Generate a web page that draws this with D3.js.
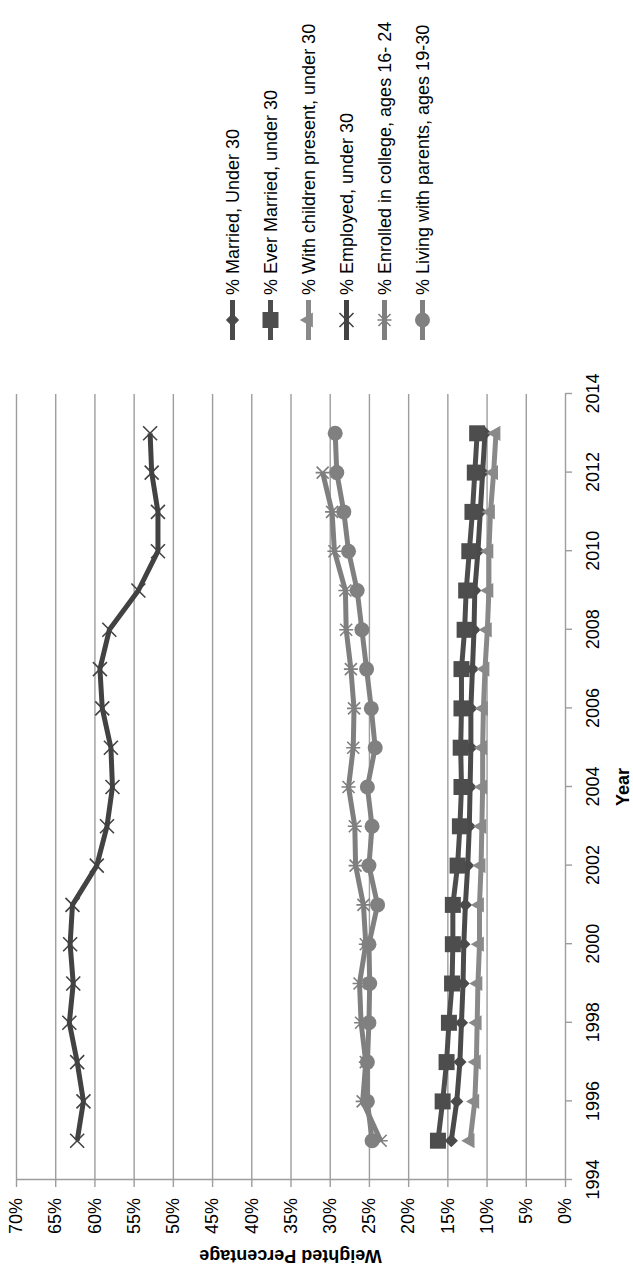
<!DOCTYPE html>
<meta charset="utf-8">
<script src="https://d3js.org/d3.v7.min.js"></script>
<style>
  body { margin: 0; background: #fff; }
  text { font-family: "Liberation Sans", Arial, sans-serif; fill: #000; }
</style>
<div id="chart"></div>
<script>

// chart values
var years = [1995, 1996, 1997, 1998, 1999, 2000, 2001, 2002, 2003, 2004,
             2005, 2006, 2007, 2008, 2009, 2010, 2011, 2012, 2013];
var married      = [14.5, 13.8, 13.4, 13.2, 13.0, 12.9, 12.7, 12.4, 12.2, 12.1,
                    12.0, 12.0, 11.8, 11.6, 11.5, 11.1, 10.8, 10.5, 10.2];
var everMarried  = [16.2, 15.6, 15.1, 14.8, 14.4, 14.3, 14.3, 13.7, 13.4, 13.2,
                    13.3, 13.2, 13.2, 12.8, 12.6, 12.2, 11.8, 11.5, 11.2];
var withChildren = [12.1, 11.5, 11.3, 11.2, 11.1, 10.9, 10.9, 10.7, 10.6, 10.5,
                    10.5, 10.4, 10.2, 9.9, 9.7, 9.7, 9.5, 9.1, 8.8];
var employed     = [62.2, 61.4, 62.2, 63.2, 62.7, 63.1, 62.8, 59.7, 58.4, 57.7,
                    57.9, 59.0, 59.3, 58.1, 54.4, 51.9, 51.9, 52.7, 52.9];
var enrolled     = [23.5, 25.8, 25.4, 26.0, 26.2, 25.4, 25.7, 26.7, 26.8, 27.6,
                    27.0, 26.9, 27.3, 27.9, 28.0, 29.4, 29.7, 30.9, null];
var living       = [24.6, 25.2, 25.2, 25.0, 24.9, 25.0, 23.9, 25.0, 24.6, 25.2,
                    24.2, 24.7, 25.3, 25.9, 26.5, 27.6, 28.2, 29.1, 29.3];

var seriesNames = ["% Married, Under 30", "% Ever Married, under 30",
                   "% With children present, under 30", "% Employed, under 30",
                   "% Enrolled in college, ages 16- 24", "% Living with parents, ages 19-30"];
var yearTicks = [1994, 1996, 1998, 2000, 2002, 2004, 2006, 2008, 2010, 2012, 2014];
var pctTicks = [0, 5, 10, 15, 20, 25, 30, 35, 40, 45, 50, 55, 60, 65, 70];

// styling per series (order = drawing order)
var series = [
  {name: seriesNames[0], values: married,      color: "#4a4a4a", marker: "diamond"},
  {name: seriesNames[1], values: everMarried,  color: "#4d4d4d", marker: "square"},
  {name: seriesNames[2], values: withChildren, color: "#898989", marker: "triangle"},
  {name: seriesNames[3], values: employed,     color: "#424242", marker: "x"},
  {name: seriesNames[4], values: enrolled,     color: "#7f7f7f", marker: "star"},
  {name: seriesNames[5], values: living,       color: "#808080", marker: "circle"}
];

// the chart is laid out landscape, then turned a quarter to the left
var W = 1266, H = 633;
var svg = d3.select("#chart").append("svg")
    .attr("width", H)
    .attr("height", W);

var g = svg.append("g")
    .attr("transform", "translate(0," + W + ") rotate(-90)");

var x = d3.scaleLinear().domain([1994, 2014]).range([86, 872]);
var y = d3.scaleLinear().domain([0, 70]).range([565, 16]);

// gridlines
g.append("g")
    .attr("transform", "translate(" + x(1994) + ",0)")
    .call(d3.axisLeft(y).tickValues(pctTicks.slice(1)).tickSize(-(x(2014) - x(1994))).tickFormat(""))
    .call(function(s) { s.select(".domain").remove(); })
    .selectAll("line").attr("stroke", "#9d9d9d").attr("stroke-width", 1.4);

// x axis
var xAxis = g.append("g")
    .attr("transform", "translate(0," + y(0) + ")")
    .call(d3.axisBottom(x).tickValues(yearTicks).tickFormat(d3.format("d")).tickSize(7).tickPadding(14.5).tickSizeOuter(0));
xAxis.select(".domain").attr("stroke", "#9d9d9d").attr("stroke-width", 1.4);
xAxis.selectAll(".tick line").attr("stroke", "#9d9d9d").attr("stroke-width", 1.4);
xAxis.selectAll("text").style("font-size", "18px").attr("fill", "#000");

// y axis
var yAxis = g.append("g")
    .attr("transform", "translate(" + x(1994) + ",0)")
    .call(d3.axisLeft(y).tickValues(pctTicks).tickFormat(function(d) { return d + "%"; }).tickSize(7).tickPadding(11).tickSizeOuter(0));
yAxis.select(".domain").attr("stroke", "#9d9d9d").attr("stroke-width", 1.4);
yAxis.selectAll(".tick line").attr("stroke", "#9d9d9d").attr("stroke-width", 1.4);
yAxis.selectAll("text").style("font-size", "18px").attr("fill", "#000");

// axis titles
g.append("text")
    .attr("transform", "translate(10," + ((y(0) + y(70)) / 2) + ") rotate(-90)")
    .attr("text-anchor", "middle")
    .attr("dominant-baseline", "central")
    .style("font-size", "18px")
    .style("font-weight", "bold")
    .text("Weighted Percentage");

g.append("text")
    .attr("x", (x(1994) + x(2014)) / 2)
    .attr("y", 623)
    .attr("text-anchor", "middle")
    .attr("dominant-baseline", "central")
    .style("font-size", "18px")
    .style("font-weight", "bold")
    .text("Year");

// marker drawing
function drawMarker(sel, type, color) {
  if (type === "square") {
    sel.append("path").attr("d", d3.symbol(d3.symbolSquare, 256)).attr("fill", color);
  } else if (type === "diamond") {
    sel.append("path").attr("d", d3.symbol(d3.symbolSquare, 88)).attr("transform", "rotate(45)").attr("fill", color);
  } else if (type === "triangle") {
    sel.append("path").attr("d", d3.symbol(d3.symbolTriangle, 100)).attr("fill", color);
  } else if (type === "circle") {
    sel.append("path").attr("d", d3.symbol(d3.symbolCircle, 177)).attr("fill", color);
  } else if (type === "x") {
    sel.append("path").attr("d", "M-7,-7L7,7M-7,7L7,-7")
        .attr("stroke", color).attr("stroke-width", 1.6).attr("fill", "none");
  } else if (type === "star") {
    sel.append("path").attr("d", "M-6,-6L6,6M-6,6L6,-6M0,-7L0,7")
        .attr("stroke", color).attr("stroke-width", 1.6).attr("fill", "none");
  }
}

var line = d3.line()
    .defined(function(d) { return d.v != null; })
    .x(function(d) { return x(d.year); })
    .y(function(d) { return y(d.v); });

series.forEach(function(s) {
  var pts = years.map(function(yr, i) { return {year: yr, v: s.values[i]}; });
  var sg = g.append("g");
  sg.append("path")
      .datum(pts)
      .attr("d", line)
      .attr("fill", "none")
      .attr("stroke", s.color)
      .attr("stroke-width", 5)
      .attr("stroke-linejoin", "round");
  sg.selectAll(".mk")
      .data(pts.filter(function(d) { return d.v != null; }))
      .enter()
      .append("g")
      .attr("transform", function(d) { return "translate(" + x(d.year) + "," + y(d.v) + ")"; })
      .each(function() { drawMarker(d3.select(this), s.marker, s.color); });
});

// legend
var legend = g.append("g").attr("transform", "translate(926,232.5)");
series.forEach(function(s, i) {
  var item = legend.append("g").attr("transform", "translate(0," + (i * 38) + ")");
  item.append("line")
      .attr("x1", 0).attr("x2", 40)
      .attr("stroke", s.color).attr("stroke-width", 5);
  var m = item.append("g").attr("transform", "translate(20,0)");
  drawMarker(m, s.marker, s.color);
  item.append("text")
      .attr("x", 45)
      .attr("dominant-baseline", "central")
      .style("font-size", "18px")
      .text(s.name);
});

</script>
